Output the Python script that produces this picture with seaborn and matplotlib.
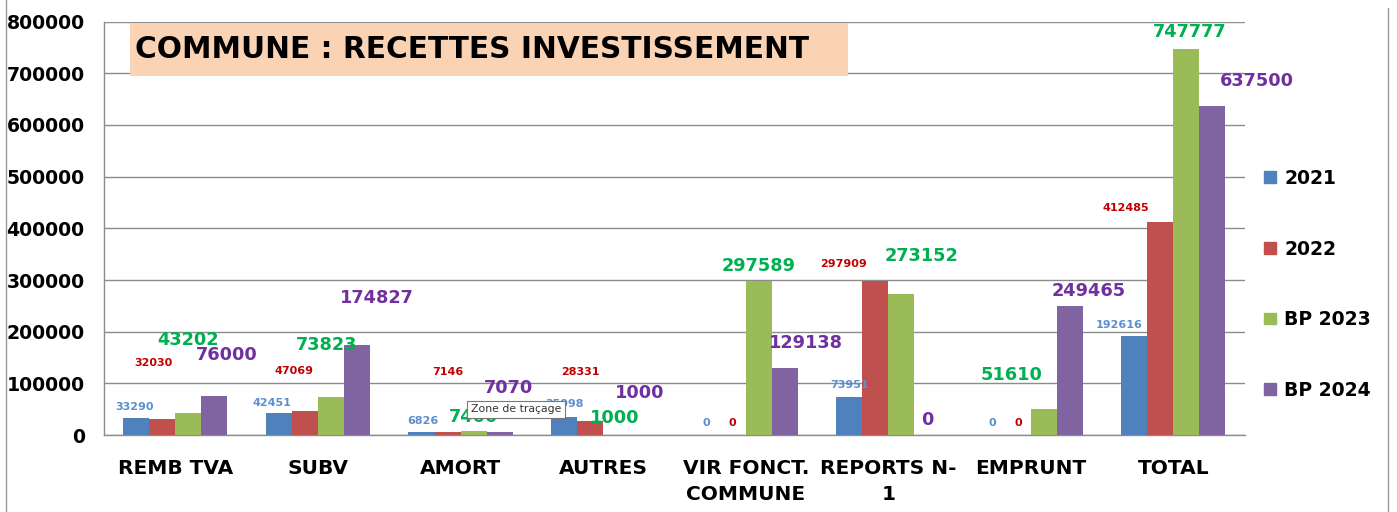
import numpy as np
import pandas as pd
import seaborn as sns
import matplotlib.pyplot as plt
from matplotlib.lines import Line2D
from matplotlib.patches import Rectangle

# data
postes = ['REMB TVA', 'SUBV', 'AMORT', 'AUTRES', 'VIR FONCT.\nCOMMUNE',
          'REPORTS N-\n1', 'EMPRUNT', 'TOTAL']
series = ['2021', '2022', 'BP 2023', 'BP 2024']
v2021 = [33290, 42451, 6826, 35098, 0, 73951, 0, 192616]
v2022 = [32030, 47069, 7146, 28331, 0, 297909, 0, 412485]
bp2023 = [43202, 73823, 7400, 1000, 297589, 273152, 51610, 747777]
bp2024 = [76000, 174827, 7070, 1000, 129138, 0, 249465, 637500]

# where the (hand-moved) labels sit: height in data units, shift in category units
lab_y = [
    [54000, 62000, 27000, 60000, 23000, 97000, 23000, 214000],
    [139000, 124000, 122000, 122000, 23000, 332000, 23000, 439000],
    [185000, 174000, 35000, 33000, 328000, 346000, 116000, 779000],
    [155000, 265000, 91000, 81000, 178000, 29000, 278000, 684000],
]
lab_dx = [
    [-0.01, -0.05, 0.01, 0.0, 0.0, 0.0, 0.0, -0.11],
    [-0.06, -0.08, 0.0, -0.07, 0.0, -0.22, 0.0, -0.245],
    [0.0, -0.03, 0.0, -0.01, 0.0, 0.14, -0.23, 0.02],
    [0.09, 0.14, 0.06, -0.02, 0.15, 0.0, 0.13, 0.31],
]

bar_colors = ['#4F81BD', '#C0504D', '#9BBB59', '#8064A2']
lab_colors = ['#5B8FD0', '#C00000', '#00B050', '#7030A0']
lab_sizes = [8, 8, 12.8, 12.8]

df = pd.DataFrame({
    'poste': postes * 4,
    'serie': np.repeat(series, len(postes)),
    'montant': v2021 + v2022 + bp2023 + bp2024,
})

sns.set_style('white')
plt.rcParams['font.family'] = ['DejaVu Sans']
plt.rcParams['text.color'] = 'black'
plt.rcParams['xtick.color'] = 'black'
plt.rcParams['ytick.color'] = 'black'

fig = plt.figure(figsize=(13.97, 5.12), dpi=100)
ax = fig.add_axes([0.0745, 0.150, 0.8165, 0.808])

width = 0.73
sns.barplot(data=df, x='poste', y='montant', hue='serie', hue_order=series,
            palette=bar_colors, saturation=1, width=width, ax=ax, zorder=3,
            legend=False, linewidth=0, edgecolor='none')

ax.set_ylim(0, 800000)
ax.set_xlim(-0.5, len(postes) - 0.5)
ax.set_yticks(np.arange(0, 800001, 100000))
ax.set_yticklabels([str(v) for v in range(0, 800001, 100000)],
                   fontsize=13.6, fontweight='bold', color='black')
ax.grid(axis='y', color='#8c8c8c', linewidth=1, zorder=0)
ax.set_axisbelow(True)
ax.set_xlabel('')
ax.set_ylabel('')
ax.tick_params(axis='y', length=8, color='#8c8c8c', pad=6)
ax.set_xticks(range(len(postes)))
ax.set_xticklabels(postes, fontsize=14.5, fontweight='bold', linespacing=1.45,
                   color='black')
ax.tick_params(axis='x', length=0, pad=17)
ax.set_xticks(np.arange(-0.5, len(postes)), minor=True)
ax.tick_params(axis='x', which='minor', length=8, color='#8c8c8c')
for side in ['top', 'right']:
    ax.spines[side].set_visible(False)
for side in ['left', 'bottom']:
    ax.spines[side].set_color('#8c8c8c')
    ax.spines[side].set_linewidth(1)

# value labels
all_vals = [v2021, v2022, bp2023, bp2024]
bw = width / 4
for s in range(4):
    for i in range(len(postes)):
        x = i - width / 2 + bw * (s + 0.5) + lab_dx[s][i]
        ax.text(x, lab_y[s][i], str(all_vals[s][i]), ha='center', va='center',
                color=lab_colors[s], fontsize=lab_sizes[s], fontweight='bold',
                zorder=5)

# Excel tooltip left in the screenshot
ax.text(2.39, 50000, 'Zone de traçage', ha='center', va='center', fontsize=7.8,
        color='#333333', zorder=6,
        bbox=dict(boxstyle='square,pad=0.35', fc='white', ec='#777777', lw=0.8))

# title in its peach box
fig.add_artist(Rectangle((0.0931, 0.8516), 0.514, 0.1035, transform=fig.transFigure,
                         fc='#FAD3B4', ec='none', zorder=1))
fig.text(0.0966, 0.903, 'COMMUNE : RECETTES INVESTISSEMENT', ha='left',
         va='center', fontsize=21.3, fontweight='bold', color='black', zorder=2)

# legend
handles = [plt.Rectangle((0, 0), 1, 1, color=c) for c in bar_colors]
leg = fig.legend(handles, series, loc='upper left', bbox_to_anchor=(0.893, 0.703),
                 frameon=False, prop={'size': 13.5, 'weight': 'bold'},
                 handlelength=0.6, handleheight=0.6, handletextpad=0.45,
                 labelspacing=2.75, labelcolor='black')

# outer chart frame lines
fig.add_artist(Line2D([0.0045, 0.0045], [0, 1], color='#999999', lw=1))
fig.add_artist(Line2D([0.9935, 0.9935], [0, 0.985], color='#999999', lw=1))

fig.savefig('out.png', dpi=100)
